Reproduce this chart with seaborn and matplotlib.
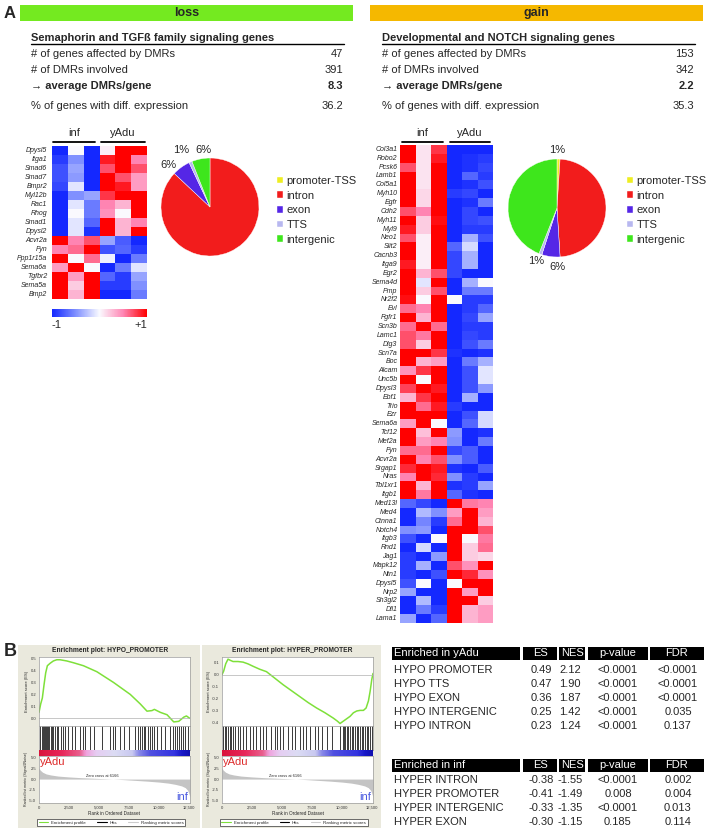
import numpy as np
import pandas as pd
import matplotlib
matplotlib.use("Agg")
import matplotlib.pyplot as plt
import seaborn as sns
from matplotlib.colors import LinearSegmentedColormap, Normalize
from matplotlib.cm import ScalarMappable
from matplotlib.patches import Rectangle
from matplotlib.lines import Line2D

sns.set_style("white")
plt.rcParams['font.family'] = ['Liberation Sans', 'DejaVu Sans']

W, H = 707, 831

# ---------------- data: panel A tables ----------------
stat_labels = ['# of genes affected by DMRs', '# of DMRs involved',
               '\u2192 average DMRs/gene', '% of genes with diff. expression']
loss_title = 'Semaphorin and TGF\u00df family signaling genes'
loss_values = ['47', '391', '8.3', '36.2']
gain_title = 'Developmental and NOTCH signaling genes'
gain_values = ['153', '342', '2.2', '35.3']

# ---------------- data: pies ----------------
feature_labels = ['promoter-TSS', 'intron', 'exon', 'TTS', 'intergenic']
feature_colors = ['#eeee22', '#f21c1c', '#5526e6', '#b8b8f0', '#3ee61c']
loss_pct = [0, 87, 6, 1, 6]
gain_pct = [1, 48, 6, 1, 44]

# ---------------- data: heatmaps ----------------
samples = ['inf1', 'inf2', 'inf3', 'yAdu1', 'yAdu2', 'yAdu3']
loss_genes = ['Dpysl5', 'Itga1', 'Smad6', 'Smad7', 'Bmpr2', 'Myl12b', 'Rac1', 'Rhog',
              'Smad1', 'Dpysl2', 'Acvr2a', 'Fyn', 'Ppp1r15a', 'Sema6a', 'Tgfbr2',
              'Sema5a', 'Bmp2']
loss_z = [
    [-1.0, 0.0, -1.0, 0.05, 1.0, 1.0],
    [-0.9, -0.5, -1.0, 0.9, 1.0, 0.5],
    [-0.8, -0.4, -1.0, 0.7, 1.0, 0.7],
    [-0.8, -0.45, -1.0, 1.0, 0.7, 0.4],
    [-0.85, -0.1, -1.0, 1.0, 0.9, 0.4],
    [-1.0, -0.5, -0.4, 0.8, 1.0, 1.0],
    [-1.0, -0.1, -0.6, 0.5, 0.3, 1.0],
    [-1.0, 0.0, -0.6, 0.45, 0.0, 1.0],
    [-1.0, -0.1, -0.7, 1.0, 0.3, 0.5],
    [-1.0, -0.1, -0.95, 1.0, 0.3, 1.0],
    [1.0, 0.5, 0.7, -0.4, -0.75, -1.0],
    [0.5, 0.6, 1.0, -0.8, -0.7, -0.9],
    [1.0, 0.0, 0.6, -0.05, -1.0, -0.6],
    [0.4, 1.0, 0.0, -1.0, -0.6, -0.1],
    [1.0, 0.4, 1.0, -0.7, -0.9, -0.4],
    [1.0, 0.2, 1.0, -0.9, -0.9, -0.5],
    [1.0, 0.3, 1.0, -1.0, -1.0, -0.6],
]

gain_genes = ['Col3a1', 'Robo2', 'Pcsk6', 'Lamb1', 'Col5a1', 'Myh10', 'Egfr', 'Cdh2',
              'Myh11', 'Myl9', 'Neo1', 'Slit2', 'Cacnb3', 'Itga9', 'Egr2', 'Sema4d',
              'Pmp', 'Nr2f2', 'Evl', 'Fgfr1', 'Scn3b', 'Lamc1', 'Dlg3', 'Scn7a', 'Boc',
              'Alcam', 'Unc5b', 'Dpysl3', 'Ebf1', 'Trio', 'Ezr', 'Sema6a', 'Tcf12',
              'Mef2a', 'Fyn', 'Acvr2a', 'Srgap1', 'Nras', 'Tbl1xr1', 'Itgb1', 'Med13l',
              'Med4', 'Ctnna1', 'Notch4', 'Itgb3', 'Rnd1', 'Jag1', 'Mapk12', 'Ntn1',
              'Dpysl5', 'Nrp2', 'Sh3gl2', 'Dll1', 'Lama1']
gain_z = [
    [1.0, 0.1, 0.8, -1.0, -1.0, -1.0],
    [1.0, 0.1, 0.9, -1.0, -0.95, -0.9],
    [0.7, 0.1, 1.0, -1.0, -0.95, -0.85],
    [1.0, 0.1, 1.0, -1.0, -0.7, -0.9],
    [1.0, 0.1, 1.0, -1.0, -0.95, -0.8],
    [1.0, 0.15, 1.0, -0.9, -0.85, -1.0],
    [1.0, 0.15, 1.0, -1.0, -0.95, -0.6],
    [0.7, 0.5, 1.0, -1.0, -0.85, -1.0],
    [1.0, 0.2, 0.95, -1.0, -0.85, -0.8],
    [0.9, 0.2, 1.0, -1.0, -0.9, -0.9],
    [0.7, 0.05, 1.0, -1.0, -0.35, -0.8],
    [1.0, 0.05, 1.0, -0.7, -0.15, -1.0],
    [1.0, 0.05, 1.0, -0.85, -0.35, -1.0],
    [0.9, 0.05, 1.0, -0.85, -0.35, -1.0],
    [1.0, 0.3, 0.7, -0.85, -1.0, -1.0],
    [1.0, -0.1, 1.0, -1.0, -0.35, 0.0],
    [1.0, 0.2, 0.7, -1.0, -0.6, -0.6],
    [0.95, 0.0, 1.0, 0.0, -0.9, -0.9],
    [0.6, 0.5, 1.0, -1.0, -0.9, -0.7],
    [1.0, 0.3, 1.0, -1.0, -0.85, -0.4],
    [0.6, 1.0, 0.6, -1.0, -0.9, -0.9],
    [0.7, 0.55, 1.0, -1.0, -0.85, -0.9],
    [0.7, 0.2, 1.0, -1.0, -0.8, -0.6],
    [1.0, 1.0, 0.8, -0.95, -1.0, -0.95],
    [1.0, 0.3, 0.4, -1.0, -0.6, -0.35],
    [0.45, 0.8, 1.0, -1.0, -0.8, -0.1],
    [1.0, 0.0, 1.0, -1.0, -0.8, -0.1],
    [0.75, 1.0, 0.9, -1.0, -0.8, -0.45],
    [0.3, 0.8, 1.0, -1.0, -0.35, -1.0],
    [1.0, 0.6, 0.9, -0.9, -1.0, -1.0],
    [1.0, 1.0, 1.0, -1.0, -0.8, -0.15],
    [0.4, 1.0, 0.0, -1.0, -0.7, -0.15],
    [1.0, 0.25, 1.0, -0.45, -1.0, -0.95],
    [1.0, 0.4, 0.5, -0.5, -1.0, -0.6],
    [0.6, 0.6, 1.0, -0.85, -0.75, -1.0],
    [1.0, 0.5, 0.7, -0.5, -0.75, -1.0],
    [0.85, 1.0, 0.9, -0.95, -1.0, -0.75],
    [0.5, 1.0, 0.85, -0.5, -0.9, -1.0],
    [1.0, 0.3, 1.0, -0.95, -0.9, -0.4],
    [1.0, 0.55, 1.0, -0.7, -0.95, -1.0],
    [-0.7, -0.85, -1.0, 1.0, 0.55, 0.5],
    [-1.0, -0.3, -0.5, 0.4, 1.0, 0.4],
    [-1.0, -0.55, -0.9, 0.6, 1.0, 0.3],
    [-0.5, -0.45, -1.0, 1.0, 1.0, 0.7],
    [-0.8, -1.0, 0.0, 1.0, 0.0, 0.55],
    [-1.0, -0.15, -1.0, 1.0, 0.2, 0.6],
    [-0.9, -1.0, -0.45, 1.0, 0.2, 0.15],
    [-0.9, -0.35, -1.0, 0.7, 0.45, 1.0],
    [-0.9, -1.0, -0.8, 1.0, 0.85, 0.45],
    [-0.8, 0.0, -1.0, 0.0, 1.0, 1.0],
    [-0.4, -1.0, -1.0, 1.0, 0.4, 1.0],
    [-1.0, -0.3, -1.0, 1.0, 1.0, 0.2],
    [-1.0, -0.6, -0.9, 1.0, 0.3, 0.4],
    [-0.4, -1.0, -0.7, 1.0, 0.3, 0.4],
]

# ---------------- data: GSEA plots ----------------
hypo_rank = [0, 140, 279, 419, 558, 698, 921, 1200, 1479, 1758, 2316, 2874, 3711, 4827,
             6222, 7617, 8454, 9012, 9430, 9626, 10128, 10686, 11244, 11662, 12081,
             12304, 12583]
hypo_es = [0.05, 0.12, 0.17, 0.28, 0.38, 0.44, 0.46, 0.48, 0.49, 0.49, 0.48, 0.465,
           0.44, 0.39, 0.30, 0.20, 0.12, 0.06, 0.065, 0.075, 0.05, 0.03, -0.03,
           -0.025, 0.01, 0.02, 0.0]
hypo_hits = [84, 223, 307, 419, 502, 586, 698, 781, 865, 977, 1088, 1200, 1339, 1479,
             1618, 1814, 1981, 2176, 2455, 2734, 3013, 3432, 3655, 3850, 4269, 4548,
             5245, 5943, 6166, 6361, 6780, 7059, 7477, 8035, 8231, 8398, 8593, 8733,
             8872, 9068, 9235, 9430, 9626, 9849, 10184, 10546, 10965, 11188, 11383,
             11523, 11662, 11858, 12025, 12220, 12416]

hyper_rank = [0, 140, 307, 502, 698, 921, 1339, 1758, 2176, 2595, 3153, 3711, 4408,
              5106, 5803, 6501, 7198, 7896, 8593, 9291, 9626, 9849, 10128, 10407,
              10686, 10965, 11244, 11523, 11802, 12025, 12220, 12360, 12500, 12600]
hyper_es = [0.0, 0.03, 0.09, 0.13, 0.12, 0.11, 0.11, 0.105, 0.09, 0.07, 0.045, 0.025,
            -0.03, -0.085, -0.135, -0.185, -0.235, -0.28, -0.32, -0.365, -0.39, -0.41,
            -0.39, -0.37, -0.35, -0.32, -0.305, -0.30, -0.30, -0.28, -0.22, -0.14,
            -0.04, 0.01]
hyper_hits = [84, 223, 363, 502, 642, 781, 921, 1060, 1339, 1535, 1758, 2037, 2316,
              2595, 2874, 3153, 3432, 3711, 4129, 4408, 4604, 4827, 5106, 5524, 5803,
              6082, 6501, 6780, 7003, 7338, 7756, 8035, 8314, 8733, 9151, 9849, 10072,
              10184, 10296, 10407, 10546, 10686, 10825, 10965, 11104, 11244, 11383,
              11523, 11662, 11802, 11941, 12081, 12220, 12360, 12500]

metric_rank = [0, 100, 300, 600, 1000, 1600, 2500, 3500, 4500, 5500, 6166, 7000, 8000,
               9000, 10000, 10800, 11400, 11900, 12200, 12400, 12500, 12600]
metric_value = [2.6, 2.1, 1.6, 1.2, 0.95, 0.7, 0.5, 0.33, 0.2, 0.08, 0.0, -0.12, -0.3,
                -0.48, -0.7, -0.95, -1.25, -1.6, -2.0, -2.6, -3.3, -4.2]

ranked_pos = [0.0, 0.15, 0.27, 0.31, 0.38, 0.5, 0.62, 0.66, 0.74, 0.9, 0.95, 1.0]
ranked_colors = ['#d9143c', '#e8285a', '#e8608e', '#f0a0dc', '#e6cdf2', '#dcdcf4',
                 '#c8c8f0', '#8c8ce8', '#5050e0', '#3434e0', '#1818c8', '#1010b0']

# ---------------- data: GSEA tables ----------------
table_cols = ['ES', 'NES', 'p-value', 'FDR']
yadu_sets = ['HYPO PROMOTER', 'HYPO TTS', 'HYPO EXON', 'HYPO INTERGENIC', 'HYPO INTRON']
yadu_es = ['0.49', '0.47', '0.36', '0.25', '0.23']
yadu_nes = ['2.12', '1.90', '1.87', '1.42', '1.24']
yadu_p = ['<0.0001', '<0.0001', '<0.0001', '<0.0001', '<0.0001']
yadu_fdr = ['<0.0001', '<0.0001', '<0.0001', '0.035', '0.137']
inf_sets = ['HYPER INTRON', 'HYPER PROMOTER', 'HYPER INTERGENIC', 'HYPER EXON']
inf_es = ['-0.38', '-0.41', '-0.33', '-0.30']
inf_nes = ['-1.55', '-1.49', '-1.35', '-1.15']
inf_p = ['<0.0001', '0.008', '<0.0001', '0.185']
inf_fdr = ['0.002', '0.004', '0.013', '0.114']

# ======================================================
fig = plt.figure(figsize=(W / 100, H / 100), dpi=100)


def px_axes(x0, y0, x1, y1):
    return fig.add_axes([x0 / W, 1 - y1 / H, (x1 - x0) / W, (y1 - y0) / H])


ov = fig.add_axes([0, 0, 1, 1])
ov.set_xlim(0, W)
ov.set_ylim(H, 0)
ov.axis('off')

ov.text(4, 13, 'A', fontsize=12, fontweight='bold', va='center')
ov.text(4, 652, 'B', fontsize=13, fontweight='bold', va='center')

# top bars
ov.add_patch(Rectangle((20, 5), 333, 16, color='#74ea20', lw=0))
ov.text(187, 13, 'loss', fontsize=9, fontweight='bold', ha='center', va='center')
ov.add_patch(Rectangle((370, 5), 333, 16, color='#f5b800', lw=0))
ov.text(536, 13, 'gain', fontsize=9, fontweight='bold', ha='center', va='center')


def draw_stats(x0, x1, title, values):
    ov.text(x0, 38, title, fontsize=8, fontweight='bold', va='center')
    ov.plot([x0, x1], [44, 44], color='black', lw=1)
    for lab, val, y in zip(stat_labels, values, [54, 70, 86, 106]):
        w = 'bold' if lab.startswith('\u2192') else 'normal'
        ov.text(x0, y, lab, fontsize=8, fontweight=w, va='center')
        ov.text(x1 - 1, y, val, fontsize=8, fontweight=w, va='center', ha='right')


draw_stats(31, 344, loss_title, loss_values)
draw_stats(382, 695, gain_title, gain_values)

# heatmaps
hm_cmap = LinearSegmentedColormap.from_list(
    'bwr_hm', [(0, '#1428ff'), (0.25, '#8090ff'), (0.5, '#fafaff'),
               (0.75, '#ff86b4'), (1, '#ff0000')])


def draw_heatmap(box, genes, z, pad):
    ax = px_axes(*box)
    df = pd.DataFrame(z, index=genes, columns=samples)
    sns.heatmap(df, ax=ax, cmap=hm_cmap, vmin=-1, vmax=1, cbar=False,
                xticklabels=False, yticklabels=True)
    ax.set_yticklabels(genes, rotation=0, fontsize=5, fontstyle='italic')
    ax.tick_params(axis='y', length=0, pad=pad)
    ax.set_xlabel('')
    ax.set_ylabel('')
    return ax


draw_heatmap((52, 146, 147, 299), loss_genes, loss_z, 3.5)
draw_heatmap((400, 145, 493, 623), gain_genes, gain_z, 1.8)

for xs, lab in [((53, 95), 'inf'), ((101, 145), 'yAdu'), ((402, 443), 'inf'), ((450, 490), 'yAdu')]:
    ov.plot(xs, [142, 142], color='black', lw=1.3)
    ov.text(sum(xs) / 2, 133, lab, fontsize=8, ha='center', va='center')

cax = px_axes(52, 309, 147, 317)
cb = fig.colorbar(ScalarMappable(norm=Normalize(-1, 1), cmap=hm_cmap), cax=cax,
                  orientation='horizontal')
cb.set_ticks([])
cb.outline.set_visible(False)
ov.text(56, 325, '-1', fontsize=8, ha='center', va='center')
ov.text(141, 325, '+1', fontsize=8, ha='center', va='center')


# pies
def draw_pie(box, pct, legend_xy, labels):
    ax = px_axes(*box)
    wedges, _ = ax.pie(pct, colors=feature_colors, startangle=90, counterclock=False,
                       wedgeprops=dict(edgecolor='white', linewidth=0.3))
    ax.set_xlim(-1, 1)
    ax.set_ylim(-1, 1)
    ax.legend(wedges, feature_labels, loc='upper left',
              bbox_to_anchor=(legend_xy[0] / W, 1 - legend_xy[1] / H),
              bbox_transform=fig.transFigure, frameon=False, fontsize=8,
              handlelength=0.55, handleheight=0.55, handletextpad=0.3,
              labelspacing=0.42, borderpad=0, borderaxespad=0)
    for txt, x, y in labels:
        ov.text(x, y, txt, fontsize=8, ha='center', va='center')


draw_pie((161, 158, 259, 256), loss_pct, (277, 176),
         [('1%', 181, 150), ('6%', 203, 150), ('6%', 168, 165), ('87%', 220, 225)])
draw_pie((508, 159, 606, 257), gain_pct, (627, 176),
         [('1%', 557, 150), ('44%', 532, 203), ('48%', 578, 212), ('1%', 536, 261),
          ('6%', 557, 267)])


# GSEA enrichment plots
def style_ax(ax):
    for s in ax.spines.values():
        s.set_color('#9a9a9a')
        s.set_linewidth(0.5)
    ax.set_facecolor('white')
    ax.tick_params(length=1, width=0.4, labelsize=3, pad=1, colors='#333333')


def draw_gsea(bg, x0, x1, title, rank, es, hits, ylim, yticks):
    ov.add_patch(Rectangle((bg[0], 645), bg[1] - bg[0], 183, color='#eae9dd', lw=0))
    ov.text((bg[0] + bg[1]) / 2 + 1, 651, title, fontsize=4.8, fontweight='bold',
            ha='center', va='center')
    xmax = 12600
    ax_es = px_axes(x0, 657, x1, 726)
    sns.lineplot(x=rank, y=es, ax=ax_es, color='#7ee03a', linewidth=1.1)
    ax_es.axhline(0, color='#b0b0b0', lw=0.5)
    ax_es.set_xlim(0, xmax)
    ax_es.set_ylim(*ylim)
    ax_es.set_xticks([])
    ax_es.set_yticks(yticks)
    ax_es.set_yticklabels([f'{v:.1f}' for v in yticks])
    ax_es.set_ylabel('Enrichment score (ES)', fontsize=3, labelpad=1)
    style_ax(ax_es)

    ax_hit = px_axes(x0, 726, x1, 750)
    ax_hit.vlines(hits, 0, 1, color='#1a1a1a', lw=0.6)
    ax_hit.set_xlim(0, xmax)
    ax_hit.set_ylim(0, 1)
    ax_hit.set_xticks([])
    ax_hit.set_yticks([])
    style_ax(ax_hit)

    ax_bar = px_axes(x0, 750, x1, 756)
    rl_cmap = LinearSegmentedColormap.from_list('rl', list(zip(ranked_pos, ranked_colors)))
    ax_bar.imshow(np.linspace(0, 1, 300)[None, :], cmap=rl_cmap, aspect='auto',
                  extent=(0, xmax, 0, 1))
    ax_bar.set_xlim(0, xmax)
    ax_bar.set_xticks([])
    ax_bar.set_yticks([])
    for s in ax_bar.spines.values():
        s.set_visible(False)

    ax_met = px_axes(x0, 756, x1, 803)
    ax_met.fill_between(metric_rank, 0, metric_value, color='#c4c4c4', lw=0)
    ax_met.set_xlim(0, xmax)
    ax_met.set_ylim(-5.6, 5.4)
    ax_met.set_yticks([5, 2.5, 0, -2.5, -5])
    ax_met.set_yticklabels(['5.0', '2.5', '0.0', '-2.5', '-5.0'])
    ax_met.set_xticks([0, 2500, 5000, 7500, 10000, 12500])
    ax_met.set_xticklabels(['0', '2,500', '5,000', '7,500', '10,000', '12,500'])
    ax_met.set_xlabel('Rank in Ordered Dataset', fontsize=3.3, labelpad=1)
    ax_met.set_ylabel('Ranked list metric (Signal2Noise)', fontsize=2.6, labelpad=1)
    ax_met.text(5300, 0.35, 'Zero cross at 6166', fontsize=2.8, ha='center', va='bottom')
    ax_met.text(80, 5.2, 'yAdu', fontsize=8, color='#dd2a2a', ha='left', va='top')
    ax_met.text(12450, -5.4, 'inf', fontsize=8, color='#4a5ae0', ha='right', va='bottom')
    style_ax(ax_met)

    handles = [Line2D([], [], color='#7ee03a', lw=0.8), Line2D([], [], color='black', lw=0.8),
               Line2D([], [], color='#cccccc', lw=0.8)]
    leg = fig.legend(handles, ['Enrichment profile', 'Hits', 'Ranking metric scores'],
                     ncol=3, fontsize=3.2, loc='center',
                     bbox_to_anchor=((bg[0] + bg[1]) / 2 / W + 0.003, 1 - 822.5 / H),
                     frameon=True, fancybox=False, edgecolor='#333333', framealpha=1,
                     handlelength=2.2, borderpad=0.35, columnspacing=2.5, handletextpad=0.6)
    leg.get_frame().set_linewidth(0.5)


draw_gsea((18, 200), 39, 190, 'Enrichment plot: HYPO_PROMOTER', hypo_rank, hypo_es,
          hypo_hits, (-0.064, 0.513), [0.0, 0.1, 0.2, 0.3, 0.4, 0.5])
draw_gsea((202, 381), 222, 373, 'Enrichment plot: HYPER_PROMOTER', hyper_rank, hyper_es,
          hyper_hits, (-0.431, 0.148), [0.1, 0.0, -0.1, -0.2, -0.3, -0.4])

# GSEA summary tables
head_boxes = [(392, 520), (523, 557), (559, 585), (588, 648), (650, 704)]
col_centers = [541, 570, 618, 678]


def draw_table(y_head, head_label, rows_y, names, *cols):
    for i, (a, b) in enumerate(head_boxes):
        ov.add_patch(Rectangle((a, y_head - 6.5), b - a, 13, color='black', lw=0))
    ov.text(394, y_head, head_label, fontsize=8, color='white', va='center')
    for lab, (a, b) in zip(table_cols, head_boxes[1:]):
        ov.text((a + b) / 2, y_head, lab, fontsize=8, color='white', va='center', ha='center')
    for j, y in enumerate(rows_y):
        ov.text(394, y, names[j], fontsize=8, va='center')
        for c, col in zip(col_centers, cols):
            ov.text(c, y, col[j], fontsize=8, va='center', ha='center')


draw_table(653.5, 'Enriched in yAdu', [670, 684, 698, 712, 725.7], yadu_sets,
           yadu_es, yadu_nes, yadu_p, yadu_fdr)
draw_table(765, 'Enriched in inf', [780, 794, 808, 822], inf_sets,
           inf_es, inf_nes, inf_p, inf_fdr)

fig.savefig('out.png', dpi=100)
